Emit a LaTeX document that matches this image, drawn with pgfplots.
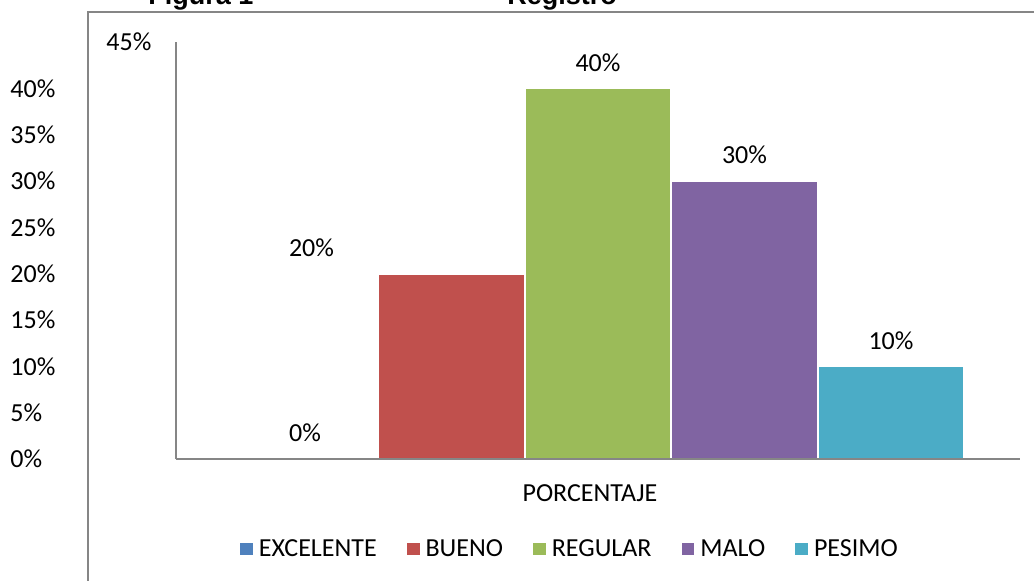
\documentclass[border=0pt]{standalone}
\usepackage{fontspec}
\setmainfont{Carlito}
\newfontfamily\titlefont{Liberation Sans}
\usepackage{pgfplots}
\pgfplotsset{compat=1.18}

\definecolor{cExc}{HTML}{4F81BD}
\definecolor{cBue}{HTML}{C0504D}
\definecolor{cReg}{HTML}{9BBB59}
\definecolor{cMal}{HTML}{8064A2}
\definecolor{cPes}{HTML}{4BACC6}
\definecolor{frame}{HTML}{868686}

\begin{document}
\begin{tikzpicture}
% page is 1034x580 px, 1px = 0.5pt, origin at top left
\useasboundingbox (0,0) rectangle (517pt,-290pt);
\draw[frame, line width=0.8pt] (44pt,-300pt) -- (44pt,-6pt) -- (530pt,-6pt);
\node[anchor=base west, inner sep=0pt, font=\titlefont\bfseries\fontsize{13.5}{15}\selectfont] at (74pt,-2pt) {Figura 1};
\node[anchor=base west, inner sep=0pt, font=\titlefont\bfseries\fontsize{13.5}{15}\selectfont] at (253.5pt,-2pt) {Registro};

\begin{axis}[
    at={(88pt,-229.5pt)}, anchor=south west,
    scale only axis, width=422pt, height=208.5pt,
    font=\fontsize{13}{15}\selectfont,
    /pgf/number format/assume math mode=true,
    ybar=0pt, bar width=73.25pt,
    xmin=-1, xmax=1, ymin=0, ymax=45,
    axis lines*=left,
    axis line style={frame, line width=0.8pt, -},
    axis on top,
    xtick=\empty,
    ytick={0,5,...,40},
    yticklabels={0\%,5\%,10\%,15\%,20\%,25\%,30\%,35\%,40\%},
    yticklabel style={anchor=west, inner sep=0pt, xshift=-83pt},
    extra y ticks={45},
    extra y tick labels={45\%},
    extra y tick style={yticklabel style={xshift=48pt}},
    major tick length=0pt,
    xlabel={PORCENTAJE},
    xlabel style={at={(axis description cs:0.4905,-0.0815)}, anchor=center, inner sep=0pt},
    nodes near coords={\pgfmathprintnumber{\pgfplotspointmeta}\%},
    every node near coord/.append style={anchor=center, yshift=13pt, inner sep=0pt, black},
    legend columns=5,
    legend style={draw=none, at={(0.468,-0.216)}, anchor=center,
        /tikz/every odd column/.append style={column sep=1pt},
        /tikz/every even column/.append style={column sep=13pt},
        font=\fontsize{13}{15}\selectfont},
    legend image code/.code={\fill[#1, draw=none] (0pt,-3.2pt) rectangle (6.4pt,3.2pt);},
]
\addplot[fill=cExc, draw=white, line width=1pt] coordinates {(0,0)};
\addlegendentry{EXCELENTE}
\addplot[fill=cBue, draw=white, line width=1pt,
    every node near coord/.append style={xshift=-70pt}] coordinates {(0,20)};
\addlegendentry{BUENO}
\addplot[fill=cReg, draw=white, line width=1pt] coordinates {(0,40)};
\addlegendentry{REGULAR}
\addplot[fill=cMal, draw=white, line width=1pt] coordinates {(0,30)};
\addlegendentry{MALO}
\addplot[fill=cPes, draw=white, line width=1pt] coordinates {(0,10)};
\addlegendentry{PESIMO}
\end{axis}
\end{tikzpicture}
\end{document}
